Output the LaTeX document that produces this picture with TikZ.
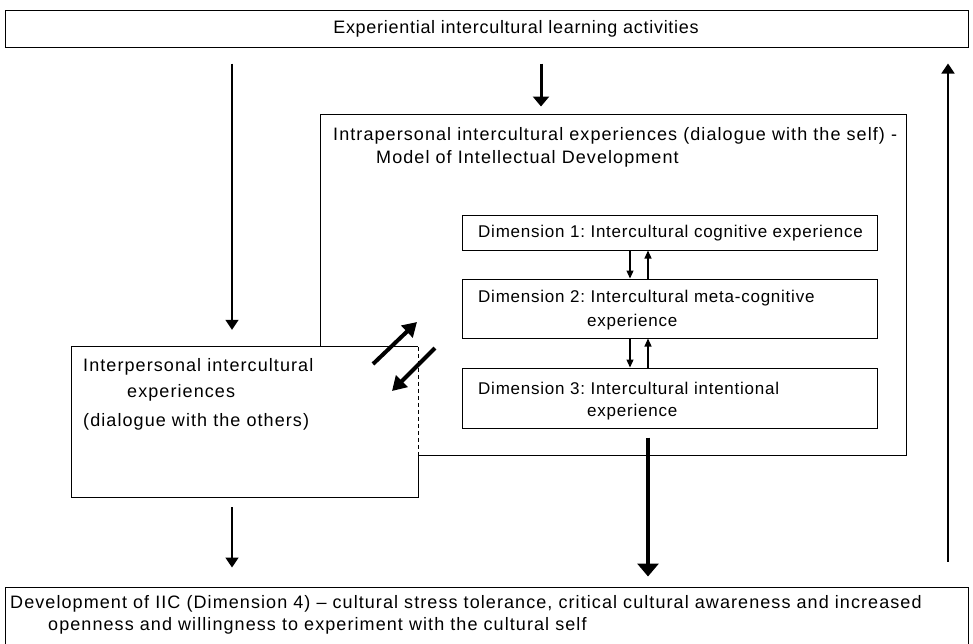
\documentclass[tikz,border=0pt]{standalone}
\usepackage{fontspec}
\setmainfont{Liberation Sans}
\newfontfamily\fgen{Liberation Sans}[LetterSpace=6]
\newfontfamily\ftop{Liberation Sans}[LetterSpace=4]
\newfontfamily\fdim{Liberation Sans}[LetterSpace=4.5]
\usetikzlibrary{arrows.meta,calc}
\begin{document}
\frenchspacing
\begin{tikzpicture}[x=1pt,y=-1pt,
  box/.style={draw, line width=1pt, inner sep=0pt},
  txt/.style={anchor=west, inner sep=0pt, font=\fgen\fontsize{18}{22}\selectfont},
  dtxt/.style={anchor=west, inner sep=0pt, font=\fdim\fontsize{17}{22}\selectfont},
  ctxt/.style={anchor=center, inner sep=0pt, font=\ftop\fontsize{18}{22}\selectfont},
  thinarr/.style={line width=1.6pt, -{Triangle[width=13pt,length=10pt]}},
  medarr/.style={line width=3pt, -{Triangle[width=16pt,length=10pt]}},
  bigarr/.style={line width=4pt, -{Triangle[width=21pt,length=13pt]}},
  diagarr/.style={line width=4pt, -{Triangle[width=16pt,length=14pt]}},
  smallarr/.style={line width=1.2pt, -{Triangle[width=7pt,length=8pt]}}]
\useasboundingbox (0,0) rectangle (973,643);
\clip (0,0) rectangle (973,643);

% boxes
\node[box, minimum width=963pt, minimum height=37pt] (top) at (486.5,28.5) {};
\node[box, minimum width=963pt, minimum height=80pt] (bot) at (486.5,627) {};
\node[box, minimum width=586pt, minimum height=341pt] (outer) at (613,284.5) {};
\node[fill=white, inner sep=0pt, minimum width=346pt, minimum height=150pt] (inter) at (245,422) {};
\draw[line width=1pt] (inter.east |- outer.south) -- (inter.south east) -- (inter.south west) -- (inter.north west) -- (inter.north east);
\draw[line width=1pt, dash pattern=on 4pt off 3pt] (inter.north east) -- (inter.east |- outer.south);
\node[box, minimum width=415pt, minimum height=35pt] (d1) at (669.5,232.5) {};
\node[box, minimum width=415pt, minimum height=59pt] (d2) at (669.5,308.5) {};
\node[box, minimum width=415pt, minimum height=60pt] (d3) at (669.5,398) {};

% texts
\node[ctxt] (ttop) at (516,29) {Experiential intercultural learning activities};
\node[txt] (tout1) at (333,136) {Intrapersonal intercultural experiences (dialogue with the self) -};
\node[txt] (tout2) at (376,159) {Model of Intellectual Development};
\node[txt] (tin1) at (83,367) {Interpersonal intercultural};
\node[txt] (tin2) at (127,393) {experiences};
\node[txt] (tin3) at (83,422) {(dialogue with the others)};
\node[dtxt] (td1) at (478,233) {Dimension 1: Intercultural cognitive experience};
\node[dtxt] (td2a) at (478,298) {Dimension 2: Intercultural meta-cognitive};
\node[dtxt] (td2b) at (587,322) {experience};
\node[dtxt] (td3a) at (478,388) {Dimension 3: Intercultural intentional};
\node[dtxt] (td3b) at (587,412) {experience};
\node[txt] (tb1) at (10,604) {Development of IIC (Dimension 4) – cultural stress tolerance, critical cultural awareness and increased};
\node[txt] (tb2) at (48,626) {openness and willingness to experiment with the cultural self};

% x positions of arrows
\coordinate (xL) at (232,0);
\coordinate (xC) at (541,0);
\coordinate (xR) at (948,0);
\coordinate (xD) at (648,0);
\coordinate (xa) at (630,0);
\coordinate (xb) at (648,0);

% arrows
\draw[thinarr, shorten <=16pt, shorten >=17pt] (top.south -| xL) -- (inter.north -| xL);
\draw[thinarr, shorten <=10pt, shorten >=19pt] (inter.south -| xL) -- (bot.north -| xL);
\draw[medarr, shorten <=16pt, shorten >=7pt] (top.south -| xC) -- (outer.north -| xC);
\draw[bigarr, shorten <=9pt, shorten >=10pt] (d3.south -| xD) -- (bot.north -| xD);
\draw[thinarr, shorten <=25pt, shorten >=16pt] (bot.north -| xR) -- (top.south -| xR);

\draw[smallarr] (d1.south -| xa) -- (d2.north -| xa);
\draw[smallarr] (d2.north -| xb) -- (d1.south -| xb);
\draw[smallarr] (d2.south -| xa) -- (d3.north -| xa);
\draw[smallarr] (d3.north -| xb) -- (d2.south -| xb);

\coordinate (g1) at (373,364);
\coordinate (g2) at (417,322);
\coordinate (g3) at (435,348);
\coordinate (g4) at (392,391);
\draw[diagarr] (g1) -- (g2);
\draw[diagarr] (g3) -- (g4);
\end{tikzpicture}
\end{document}
